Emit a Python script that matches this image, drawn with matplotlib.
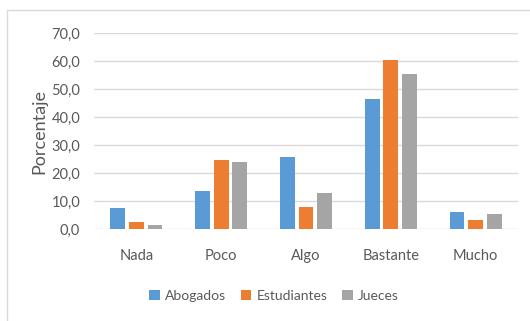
import matplotlib; matplotlib.use("Agg")
import matplotlib.pyplot as plt
import numpy as np
from matplotlib.patches import Rectangle

categories = ["Nada", "Poco", "Algo", "Bastante", "Mucho"]
abogados = [7.7, 13.6, 25.7, 46.4, 6.2]
estudiantes = [2.5, 24.6, 7.8, 60.4, 3.3]
jueces = [1.4, 23.9, 12.8, 55.5, 5.5]
SERIES = [("Abogados", abogados, "#5b9bd5"), ("Estudiantes", estudiantes, "#ed7d31"), ("Jueces", jueces, "#a5a5a5")]

plt.rcParams["font.family"] = ["Lato", "DejaVu Sans"]
TXT = "#595959"

fig = plt.figure(figsize=(5.30, 3.21), dpi=100)
# outer frame, clipped at right and bottom like the screenshot
fig.patches.append(Rectangle((7/530, -0.1), 1.2, 1 - 10/321 + 0.1, transform=fig.transFigure,
                             fill=False, edgecolor="#d9d9d9", lw=1))
ax = fig.add_axes([94/530, 1 - 229.3/321, (518-94)/530, (229.3-33)/321])

x = np.arange(len(categories))
for i, (name, vals, col) in enumerate(SERIES):
    ax.bar(x + (i-1)*0.22, vals, width=0.175, color=col, label=name, zorder=3)

ax.set_xlim(-0.5, len(categories) - 0.5)
ax.set_ylim(0, 70)
ax.set_yticks(range(0, 71, 10))
ax.set_yticklabels([f"{v:.1f}".replace(".", ",") for v in range(0, 71, 10)])
ax.set_xticks(x)
ax.set_xticklabels(categories)
ax.grid(axis="y", color="#d9d9d9", lw=1, zorder=0)
for s in ax.spines.values(): s.set_visible(False)
ax.tick_params(length=0, colors=TXT, labelsize=10.5)
ax.tick_params(axis="x", pad=14)
ax.tick_params(axis="y", pad=10)
ax.set_ylabel("Porcentaje", color=TXT, fontsize=13, labelpad=3)
ax.legend(loc="center", bbox_to_anchor=(274/530, 1 - 296/321), bbox_transform=fig.transFigure,
          ncol=3, frameon=False, fontsize=10, labelcolor=TXT, handlelength=0.75, handleheight=0.75,
          handletextpad=0.35, columnspacing=1.1)

plt.savefig("out.png", dpi=100)
